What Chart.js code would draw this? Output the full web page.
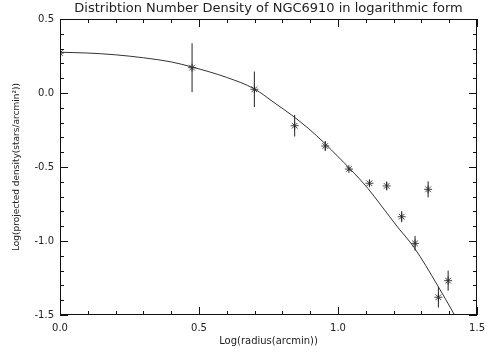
<!DOCTYPE html>
<html>
<head>
<meta charset="utf-8">
<script src="https://cdn.jsdelivr.net/npm/chart.js@4/dist/chart.umd.min.js"></script>
<style>
  html, body { margin: 0; padding: 0; background: #fff; }
  #wrap { position: relative; width: 492px; height: 352px; }
  canvas { display: block; }
  #o { position: absolute; left: 0; top: 0; pointer-events: none; }
</style>
</head>
<body>
<div id="wrap">
<canvas id="c" width="492" height="352"></canvas>
<canvas id="o" width="492" height="352"></canvas>
</div>
<script>
// observed points: log radius, log density, error
const logR   = [0.0, 0.475, 0.699, 0.844, 0.954, 1.039, 1.113, 1.175, 1.229, 1.277, 1.324, 1.361, 1.396];
const logRho = [0.27, 0.171, 0.025, -0.221, -0.358, -0.514, -0.610, -0.628, -0.836, -1.016, -0.651, -1.380, -1.268];
const errRho = [0.0, 0.165, 0.12, 0.073, 0.034, 0.012, 0.02, 0.03, 0.037, 0.05, 0.054, 0.07, 0.068];

// fitted curve
const fitX = [0, 0.1, 0.2, 0.3, 0.4, 0.476, 0.6, 0.7, 0.774, 0.833, 0.893, 0.952, 1.0, 1.042, 1.107, 1.155, 1.214, 1.274, 1.357, 1.417, 1.42];
const fitY = [0.275, 0.27, 0.258, 0.238, 0.21, 0.175, 0.105, 0.027, -0.07, -0.149, -0.239, -0.34, -0.43, -0.51, -0.644, -0.76, -0.905, -1.045, -1.297, -1.493, -1.503];

const xTicks = ['0.0', '0.5', '1.0', '1.5'];
const yTicks = ['-1.5', '-1.0', '-0.5', '0.0', '0.5'];

const chartTitle = 'Distribtion Number Density of NGC6910 in logarithmic form';
const FONT = 'DejaVu Sans';

const X_MIN = parseFloat(xTicks[0]), X_MAX = parseFloat(xTicks[xTicks.length - 1]);
const Y_MIN = parseFloat(yTicks[0]), Y_MAX = parseFloat(yTicks[yTicks.length - 1]);

function isMajor(v) { return Math.abs(v * 2 - Math.round(v * 2)) < 1e-6; }
function fmt(v, list) {
    if (!isMajor(v)) return '';
    const s = (Math.round(v * 2) / 2).toFixed(1);
    const hit = list.find(l => parseFloat(l) === parseFloat(s));
    return hit === undefined ? '' : hit;
}

// error bars as segments separated by gaps
let errPts = [];
for (let i = 0; i < logR.length; i++) {
    if (errRho[i] <= 0) continue;
    errPts.push({x: logR[i], y: logRho[i] - errRho[i]});
    errPts.push({x: logR[i], y: logRho[i] + errRho[i]});
    errPts.push({x: logR[i], y: null});
}

function drawFrame(g, sx, sy) {
    const L = Math.round(sx.getPixelForValue(X_MIN));
    const R = Math.round(sx.getPixelForValue(X_MAX)) - 1;
    const T = Math.round(sy.getPixelForValue(Y_MAX));
    const B = Math.round(sy.getPixelForValue(Y_MIN)) - 1;
    g.save();
    g.globalAlpha = 1;
    g.globalCompositeOperation = 'source-over';
    g.fillStyle = '#111';
    g.fillRect(L, T, R - L + 1, 1);
    g.fillRect(L, B, R - L + 1, 1);
    g.fillRect(L, T, 1, B - T + 1);
    g.fillRect(R, T, 1, B - T + 1);
    for (let i = 0; i <= Math.round((X_MAX - X_MIN) * 10); i++) {
        const v = X_MIN + i / 10;
        const px = Math.round(sx.getPixelForValue(v));
        const len = isMajor(v) ? 8 : 4;
        g.fillRect(px, B - len + 1, 1, len);
        g.fillRect(px, T, 1, len);
    }
    for (let i = 0; i <= Math.round((Y_MAX - Y_MIN) * 10); i++) {
        const v = Y_MIN + i / 10;
        const py = Math.round(sy.getPixelForValue(v));
        const len = isMajor(v) ? 8 : 4;
        g.fillRect(L, py, len, 1);
        g.fillRect(R - len + 1, py, len, 1);
    }
    g.restore();
}

// box + inward ticks on all four sides, plus the title
const boxPlugin = {
    id: 'boxPlugin',
    afterDraw(chart) {
        const sx = chart.scales.x, sy = chart.scales.y;
        const ctx = chart.ctx;
        drawFrame(ctx, sx, sy);
        const o = document.getElementById('o').getContext('2d');
        o.clearRect(0, 0, 492, 352);
        drawFrame(o, sx, sy);

        ctx.save();
        ctx.fillStyle = '#222';
        ctx.font = '13px "DejaVu Sans"';
        ctx.textAlign = 'center';
        ctx.textBaseline = 'middle';
        ctx.fillText(chartTitle, (sx.getPixelForValue(X_MIN) + sx.getPixelForValue(X_MAX)) / 2, 9);
        ctx.restore();
    }
};

new Chart(document.getElementById('c'), {
    type: 'scatter',
    data: {
        datasets: [
            {
                type: 'line',
                data: fitX.map((v, i) => ({x: v, y: fitY[i]})),
                borderColor: '#333',
                borderWidth: 1,
                pointRadius: 0,
                cubicInterpolationMode: 'monotone',
                fill: false
            },
            {
                type: 'line',
                data: errPts,
                borderColor: '#222',
                borderWidth: 1,
                pointRadius: 0,
                spanGaps: false,
                fill: false
            },
            {
                data: logR.map((v, i) => ({x: v, y: logRho[i]})),
                pointStyle: 'star',
                pointRadius: 4,
                pointBorderWidth: 1,
                pointBorderColor: '#444',
                pointBackgroundColor: '#000'
            }
        ]
    },
    options: {
        responsive: false,
        animation: false,
        layout: { padding: { right: 12, top: 19, left: 0, bottom: 0 } },
        plugins: {
            legend: { display: false },
            tooltip: { enabled: false },
            title: { display: false }
        },
        scales: {
            x: {
                min: X_MIN, max: X_MAX,
                grid: { drawOnChartArea: false, drawTicks: false },
                border: { display: false },
                ticks: {
                    stepSize: 0.1, autoSkip: false, maxRotation: 0,
                    color: '#222', padding: 7,
                    font: { family: FONT, size: 10 },
                    callback: v => fmt(v, xTicks)
                },
                title: {
                    display: true, text: 'Log(radius(arcmin))', color: '#222',
                    font: { family: FONT, size: 10 }, padding: { top: 0, bottom: 5 }
                },
                afterFit: s => { s.height = 37; }
            },
            y: {
                min: Y_MIN, max: Y_MAX,
                grid: { drawOnChartArea: false, drawTicks: false },
                border: { display: false },
                ticks: {
                    stepSize: 0.1, autoSkip: false,
                    color: '#222', padding: 6,
                    font: { family: FONT, size: 10 },
                    callback: v => fmt(v, yTicks)
                },
                title: {
                    display: true, text: 'Log(projected density(stars/arcmin²))', color: '#222',
                    font: { family: FONT, size: 9 }, padding: { top: 11, bottom: 0 }
                },
                afterFit: s => { s.width = 60; }
            }
        }
    },
    plugins: [boxPlugin]
});
</script>
</body>
</html>
